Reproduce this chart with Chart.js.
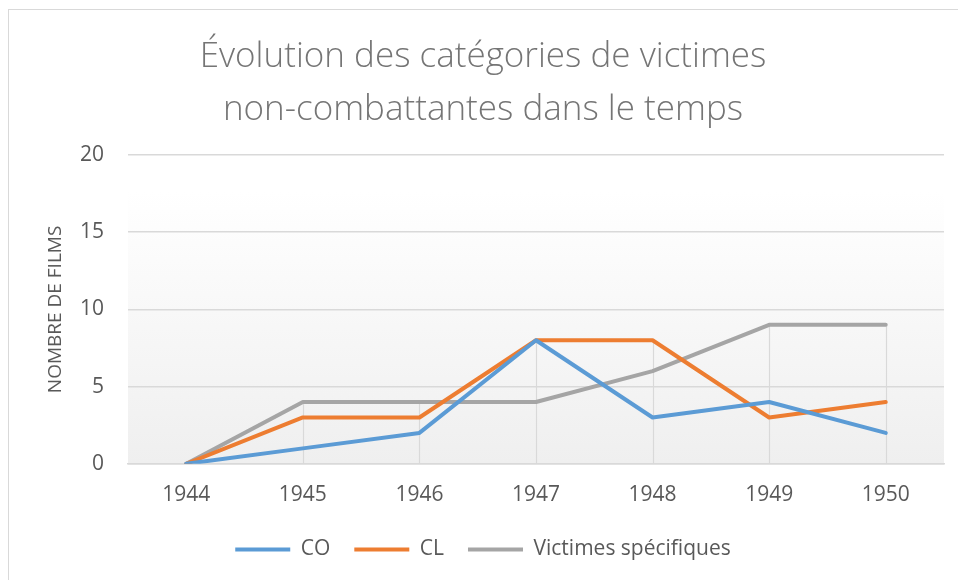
<!DOCTYPE html>
<html>
<head>
<meta charset="utf-8">
<script src="https://cdn.jsdelivr.net/npm/chart.js@4"></script>
<style>
  html, body { margin: 0; padding: 0; background: #fff; overflow: hidden; }
  #frame { position: absolute; left: 8px; top: 9px; width: 970px; height: 600px; border: 1.5px solid #d9d9d9; }
  #wrap { position: absolute; left: 0; top: 0; width: 958px; height: 580px; }
</style>
</head>
<body>
<div id="frame"></div>
<div id="wrap"><canvas id="chart" width="958" height="580"></canvas></div>
<script>
// data
const years = ["1944", "1945", "1946", "1947", "1948", "1949", "1950"];
const coValues = [0, 1, 2, 8, 3, 4, 2];
const clValues = [0, 3, 3, 8, 8, 3, 4];
const victimesValues = [0, 4, 4, 4, 6, 9, 9];
const yTicks = [0, 5, 10, 15, 20];

const textGrey = "#595959";
const fontFamily = "'Open Sans', sans-serif";

// plot area background: white at top fading to light grey at the bottom
const plotBackground = {
    id: "plotBackground",
    beforeDraw(chart) {
        const { ctx, chartArea: a } = chart;
        const g = ctx.createLinearGradient(0, a.top, 0, a.bottom);
        g.addColorStop(0, "#ffffff");
        g.addColorStop(0.12, "#ffffff");
        g.addColorStop(1, "#efefef");
        ctx.save();
        ctx.fillStyle = g;
        ctx.fillRect(a.left, a.top, a.right - a.left, a.bottom - a.top);
        ctx.restore();
    }
};

// excel style drop lines from the highest point of each category down to 0
const dropLines = {
    id: "dropLines",
    beforeDatasetsDraw(chart) {
        const { ctx, scales: { x, y } } = chart;
        ctx.save();
        ctx.strokeStyle = "#d9d9d9";
        ctx.lineWidth = 1.2;
        years.forEach((yr, i) => {
            const top = Math.max(...chart.data.datasets.map(d => d.data[i]));
            if (top <= 0) return;
            const px = Math.round(x.getPixelForValue(i)) + 0.5;
            ctx.beginPath();
            ctx.moveTo(px, y.getPixelForValue(0));
            ctx.lineTo(px, y.getPixelForValue(top));
            ctx.stroke();
        });
        ctx.restore();
    }
};

const ctx = document.getElementById("chart").getContext("2d");
new Chart(ctx, {
    type: "line",
    data: {
        labels: years,
        datasets: [
            { label: "CO", data: coValues, borderColor: "#5b9bd5", backgroundColor: "#5b9bd5" },
            { label: "CL", data: clValues, borderColor: "#ed7d31", backgroundColor: "#ed7d31" },
            { label: "Victimes spécifiques", data: victimesValues, borderColor: "#a5a5a5", backgroundColor: "#a5a5a5" }
        ]
    },
    options: {
        responsive: false,
        animation: false,
        layout: { padding: { left: 22, right: 14, top: 22, bottom: 10 } },
        elements: {
            line: { borderWidth: 4, tension: 0, borderCapStyle: "round", borderJoinStyle: "round" },
            point: { radius: 0, hoverRadius: 0 }
        },
        scales: {
            x: {
                offset: true,
                afterFit(axis) { axis.height -= 12; },
                grid: { display: false, drawTicks: false },
                border: { display: true, color: "#d9d9d9", width: 1.5 },
                ticks: { color: textGrey, font: { family: fontFamily, size: 21 }, padding: 19 }
            },
            y: {
                min: 0,
                max: 20,
                afterBuildTicks(axis) { axis.ticks = yTicks.map(v => ({ value: v })); },
                afterFit(axis) { axis.width = 106; },
                grid: { color: "#d9d9d9", lineWidth: 1.5, drawTicks: false },
                border: { display: false },
                ticks: { color: textGrey, font: { family: fontFamily, size: 21 }, padding: 24 },
                title: { display: true, text: "NOMBRE DE FILMS", color: textGrey, font: { family: fontFamily, size: 19 }, padding: { top: 22, bottom: 0 } }
            }
        },
        plugins: {
            title: {
                display: true,
                text: ["Évolution des catégories de victimes", "non-combattantes dans le temps"],
                color: "#757575",
                font: { family: fontFamily, size: 35, weight: "300", lineHeight: 1.5 },
                padding: { top: 9, bottom: 19 }
            },
            legend: {
                position: "bottom",
                labels: {
                    color: textGrey,
                    font: { family: fontFamily, size: 21 },
                    boxWidth: 55,
                    boxHeight: 4,
                    padding: 24,
                    generateLabels(chart) {
                        return chart.data.datasets.map((d, i) => ({
                            text: d.label,
                            fillStyle: d.borderColor,
                            strokeStyle: d.borderColor,
                            lineWidth: 0,
                            fontColor: textGrey,
                            datasetIndex: i
                        }));
                    }
                }
            },
            tooltip: { enabled: false }
        }
    },
    plugins: [plotBackground, dropLines]
});
</script>
</body>
</html>
